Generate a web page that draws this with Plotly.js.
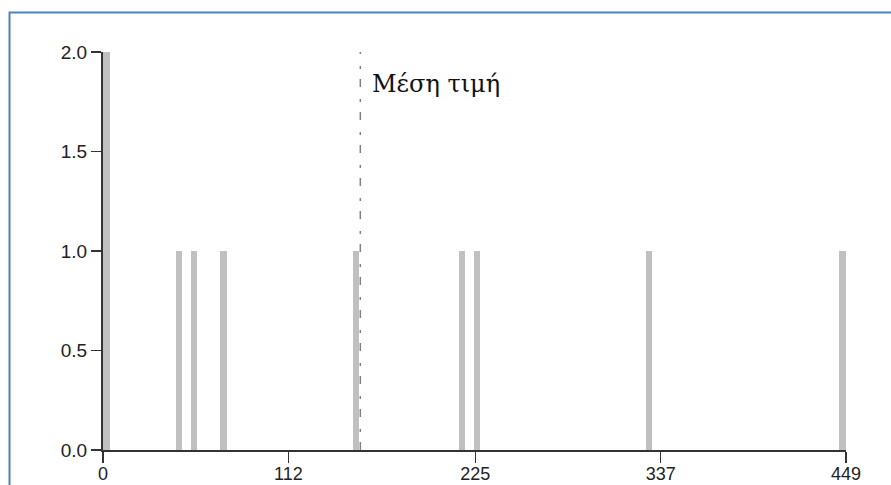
<!DOCTYPE html>
<html>
<head>
<meta charset="utf-8">
<script src="https://cdn.plot.ly/plotly-3.0.1.min.js"></script>
<style>
html,body{margin:0;padding:0;background:#fff;}
#chart{width:891px;height:485px;}
</style>
</head>
<body>
<div id="chart"></div>
<script>
// Data
const values = [2, 46, 55, 73, 153, 217, 226, 330, 447];
const counts = [2, 1, 1, 1, 1, 1, 1, 1, 1];
const meanValue = 155.5;
const meanLabel = "Μέση τιμή";
const xTickVals = [0, 112, 225, 337, 449];
const xTickText = ["0", "112", "225", "337", "449"];
const yTickVals = [0, 0.5, 1, 1.5, 2];

const L = 103, R = 846, T = 52, B = 450, W = 891, H = 485;
const pw = R - L, ph = B - T;
const px = v => (v - L) / pw;
const py = v => (B - v) / ph;

const trace = {
  type: 'bar',
  x: values,
  y: counts,
  width: 4,
  marker: {color: '#c0c0c0', line: {width: 0}},
  hoverinfo: 'x+y'
};

const yTickFont = {family: 'Liberation Sans, Arial, sans-serif', size: 19, color: '#222'};
const xTickFont = {family: 'Liberation Sans, Arial, sans-serif', size: 18, color: '#222'};

const layout = {
  width: W, height: H,
  margin: {l: L, r: W - R, t: T, b: H - B, pad: 0},
  paper_bgcolor: '#fff', plot_bgcolor: '#fff',
  showlegend: false,
  bargap: 0,
  xaxis: {
    range: [0, 449], tickvals: xTickVals, ticktext: xTickText,
    showgrid: false, zeroline: false, showline: true,
    linecolor: '#333', linewidth: 2,
    ticks: 'outside', ticklen: 11, tickwidth: 1.5, tickcolor: '#333',
    ticklabelstandoff: -5,
    tickfont: xTickFont, fixedrange: true
  },
  yaxis: {
    range: [0, 2], tickvals: yTickVals, tickformat: '.1f',
    showgrid: false, zeroline: false, showline: true,
    linecolor: '#333', linewidth: 2,
    ticks: 'outside', ticklen: 10, tickwidth: 1.5, tickcolor: '#333',
    tickfont: yTickFont, fixedrange: true
  },
  shapes: [
    {type: 'line', xref: 'x', yref: 'y', x0: meanValue, x1: meanValue, y0: 0, y1: 2,
     line: {color: '#808080', width: 1.5, dash: '8px,10px,3px,12px'}},
    {type: 'path', xref: 'paper', yref: 'paper',
     path: `M ${px(9.5)} ${py(H + 5)} L ${px(9.5)} ${py(12.5)} L ${px(W + 5)} ${py(12.5)}`,
     line: {color: '#4f81bd', width: 2}}
  ],
  annotations: [
    {xref: 'x', yref: 'y', x: meanValue, y: 1.84, xanchor: 'left', yanchor: 'middle',
     xshift: 10, showarrow: false, text: meanLabel,
     font: {family: 'DejaVu Serif, Liberation Serif, serif', size: 24, color: '#111'}}
  ]
};

Plotly.newPlot('chart', [trace], layout, {displayModeBar: false, staticPlot: true});
</script>
</body>
</html>
